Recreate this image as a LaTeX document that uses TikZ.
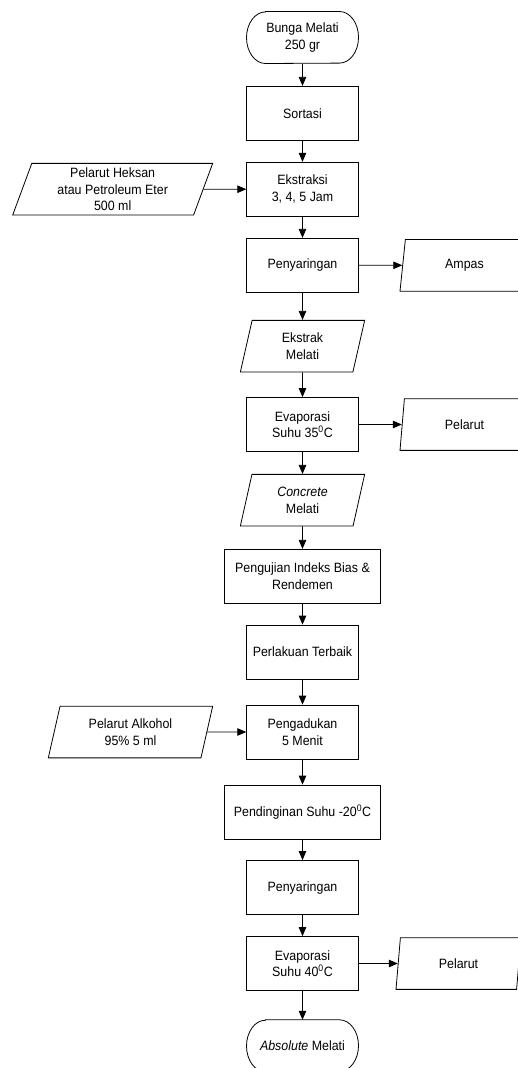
\documentclass[tikz,border=0pt]{standalone}
\usepackage{fontspec}
\setmainfont{Liberation Sans}[FakeStretch=0.92]
\usetikzlibrary{arrows.meta,shapes.geometric}
\begin{document}
\begin{tikzpicture}[x=1pt,y=-1pt,
  every node/.style={font=\fontsize{13.5}{16.5}\selectfont, align=center, inner sep=0pt},
  proc/.style={draw, rectangle, minimum width=111.6pt, minimum height=54pt, line width=0.8pt},
  wide/.style={proc, minimum width=156pt},
  term/.style={rectangle, minimum width=111.6pt, minimum height=51.6pt},
  termline/.style={draw, line width=0.8pt},
  io/.style={draw, trapezium, trapezium left angle=66, trapezium right angle=114, trapezium stretches body, minimum height=51.7pt, line width=0.8pt},
  arr/.style={-{Triangle[length=9pt,width=7.5pt]}, line width=0.8pt}]
\useasboundingbox (0,0) rectangle (518,1068);
\clip (0,0) rectangle (518,1068);
\node[term] (n1) at (302.5,37.5) {Bunga Melati\\250 gr};
\draw[termline] ([xshift=19pt]n1.north west) -- ([xshift=-19pt]n1.north east)
  arc[start angle=90,end angle=-90,x radius=19pt,y radius=25.8pt]
  -- ([xshift=19pt]n1.south west)
  arc[start angle=270,end angle=90,x radius=19pt,y radius=25.8pt] -- cycle;
\node[proc] (n2) at (302.5,113.3) {Sortasi};
\node[proc] (n3) at (302.5,189.2) {Ekstraksi\\3, 4, 5 Jam};
\node[io, minimum width=200pt] (h) at (112.7,189.2) {Pelarut Heksan\\atau Petroleum Eter\\500 ml};
\node[proc] (n4) at (302.5,265.3) {Penyaringan};
\node[io, minimum width=129pt] (amp) at (464.5,265.3) {Ampas};
\node[io, minimum width=124.3pt] (n5) at (302.5,346.2) {Ekstrak\\Melati};
\node[proc] (n6) at (302.5,424.5) {Evaporasi\\Suhu 35\textsuperscript{0}C};
\node[io, minimum width=129pt] (p1) at (464.5,424.5) {Pelarut};
\node[io, minimum width=124.3pt] (n7) at (302.5,500.2) {\textit{Concrete}\\Melati};
\node[wide] (n8) at (302.5,576.3) {Pengujian Indeks Bias \&\\Rendemen};
\node[proc] (n9) at (302.5,652) {Perlakuan Terbaik};
\node[proc] (n10) at (302.5,732) {Pengadukan\\5 Menit};
\node[io, minimum width=164.4pt] (alk) at (130.5,732) {Pelarut Alkohol\\95\% 5 ml};
\node[wide] (n11) at (302.5,812) {Pendinginan Suhu -20\textsuperscript{0}C};
\node[proc] (n12) at (302.5,887.5) {Penyaringan};
\node[proc] (n13) at (302.5,963.5) {Evaporasi\\Suhu 40\textsuperscript{0}C};
\node[io, minimum width=125pt] (p2) at (458.5,963.5) {Pelarut};
\node[term] (n14) at (302.5,1045.8) {\textit{Absolute} Melati};
\draw[termline] ([xshift=19pt]n14.north west) -- ([xshift=-19pt]n14.north east)
  arc[start angle=90,end angle=-90,x radius=19pt,y radius=25.8pt]
  -- ([xshift=19pt]n14.south west)
  arc[start angle=270,end angle=90,x radius=19pt,y radius=25.8pt] -- cycle;
\draw[arr] (n1) -- (n2);
\draw[arr] (n2) -- (n3);
\draw[arr] (n3) -- (n4);
\draw[arr] (n4) -- (n5);
\draw[arr] (n5) -- (n6);
\draw[arr] (n6) -- (n7);
\draw[arr] (n7) -- (n8);
\draw[arr] (n8) -- (n9);
\draw[arr] (n9) -- (n10);
\draw[arr] (n10) -- (n11);
\draw[arr] (n11) -- (n12);
\draw[arr] (n12) -- (n13);
\draw[arr] (n13) -- (n14);
\draw[arr] (h) -- (n3);
\draw[arr] (n4) -- (amp);
\draw[arr] (n6) -- (p1);
\draw[arr] (alk) -- (n10);
\draw[arr] (n13) -- (p2);
\end{tikzpicture}
\end{document}
